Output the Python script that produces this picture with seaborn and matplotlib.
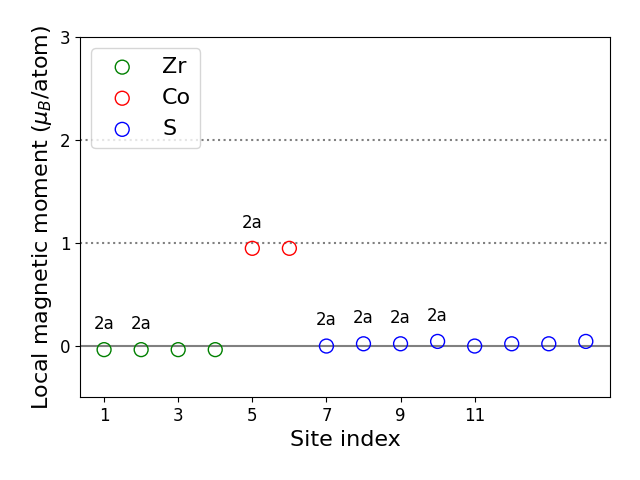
import matplotlib
matplotlib.use("Agg")
import matplotlib.pyplot as plt
import seaborn as sns
import pandas as pd

# Data
zr_sites = [1, 2, 3, 4]
zr_moments = [-0.04, -0.04, -0.04, -0.04]
co_sites = [5, 6]
co_moments = [0.945, 0.945]
s_sites = [7, 8, 9, 10, 11, 12, 13, 14]
s_moments = [-0.005, 0.017, 0.017, 0.04, -0.005, 0.017, 0.017, 0.04]
label_sites = [1, 2, 5, 7, 8, 9, 10]
label_text = "2a"
xticks = [1, 3, 5, 7, 9, 11]

groups = [("Zr", zr_sites, zr_moments, "green"),
          ("Co", co_sites, co_moments, "red"),
          ("S", s_sites, s_moments, "blue")]

all_sites = zr_sites + co_sites + s_sites
all_moments = zr_moments + co_moments + s_moments
lookup = dict(zip(all_sites, all_moments))

fig, ax = plt.subplots(figsize=(6.4, 4.8), dpi=100)
fig.subplots_adjust(left=0.125, right=0.953, top=0.923, bottom=0.173)

ax.axhline(0, color="gray", lw=1.5, zorder=1)
ax.axhline(1, color="gray", lw=1.5, ls=":", zorder=1)
ax.axhline(2, color="gray", lw=1.5, ls=":", zorder=1)

for name, xs, ys, col in groups:
    df = pd.DataFrame({"site": xs, "moment": ys})
    sns.scatterplot(data=df, x="site", y="moment", ax=ax, s=100,
                    facecolors="none", edgecolors=col, linewidths=1.0,
                    label=name, zorder=3)

for s in label_sites:
    ax.text(s, lookup[s] + 0.25, label_text, ha="center", va="center",
            fontsize=12)

ax.set_xlim(0.35, 14.65)
ax.set_ylim(-0.5, 3)
ax.set_xticks(xticks)
ax.set_yticks([0, 1, 2, 3])
ax.tick_params(labelsize=12)
ax.set_xlabel("Site index", fontsize=16)
ax.set_ylabel(r"Local magnetic moment ($\mu_B$/atom)", fontsize=16)
ax.legend(loc="upper left", fontsize=16)

fig.savefig("out.png", dpi=100)
